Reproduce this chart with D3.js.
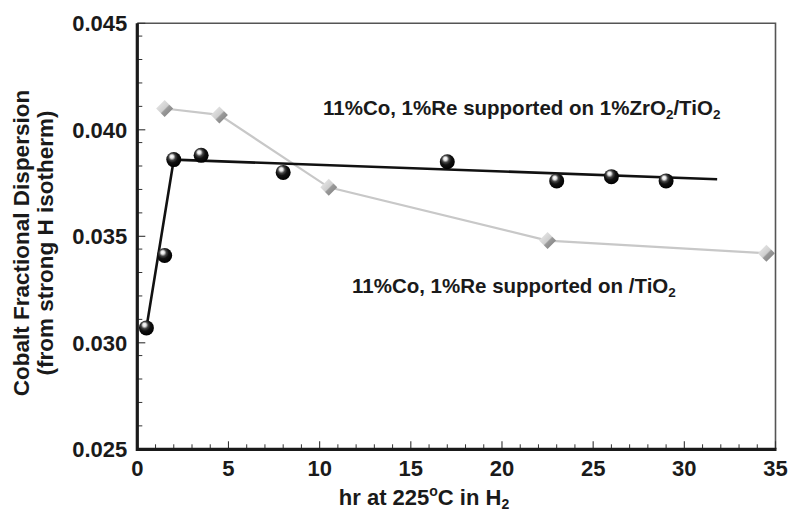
<!DOCTYPE html>
<html><head><meta charset="utf-8">
<script src="https://cdn.jsdelivr.net/npm/d3@7"></script>
<style>
html,body{margin:0;padding:0;background:#fff;}
svg{display:block;font-family:"Liberation Sans",Arial,sans-serif;font-weight:bold;}
</style></head>
<body><svg id="c" width="791" height="514"></svg>
<script>
// ---- data ----
const zrHours = [0.5, 1.5, 2, 3.5, 8, 17, 23, 26, 29];
const zrDisp  = [0.0307, 0.0341, 0.0386, 0.0388, 0.0380, 0.0385, 0.0376, 0.0378, 0.0376];
const zrLineHours = [0.5, 2, 31.8];
const zrLineDisp  = [0.0307, 0.0386, 0.03768];
const tiHours = [1.5, 4.5, 10.5, 22.5, 34.5];
const tiDisp  = [0.0410, 0.0407, 0.0373, 0.0348, 0.0342];
const xTicks = [0, 5, 10, 15, 20, 25, 30, 35];
const xMinor = [1,2,3,4,6,7,8,9,11,12,13,14,16,17,18,19,21,22,23,24,26,27,28,29,31,32,33,34];
const yTicks = [0.025, 0.030, 0.035, 0.040, 0.045];
const yMinor = [0.0444,0.0433,0.0422,0.0411, 0.0394,0.0383,0.0372,0.0361,
                0.0344,0.0333,0.0322,0.0311, 0.0294,0.0283,0.0272,0.0261];

const svg = d3.select("#c");
const L = 137.3, R = 775.5, T = 23.3, B = 449.3;
const x = d3.scaleLinear().domain([0, 35]).range([L, R]);
const y = d3.scaleLinear().domain([0.025, 0.045]).range([B, T]);

const defs = svg.append("defs");
const rg = defs.append("radialGradient").attr("id","sph")
  .attr("cx","0.42").attr("cy","0.38").attr("r","0.62").attr("fx","0.36").attr("fy","0.28");
[[0,"#ffffff"],[0.18,"#e6e6e6"],[0.38,"#444"],[0.6,"#111"],[1,"#000"]].forEach(s=>
  rg.append("stop").attr("offset",s[0]).attr("stop-color",s[1]));
const lg = defs.append("linearGradient").attr("id","dia")
  .attr("x1","0").attr("y1","0").attr("x2","1").attr("y2","1");
[[0,"#eeeeee"],[0.5,"#cfcfcf"],[0.56,"#9a9a9a"],[1,"#7a7a7a"]].forEach(s=>
  lg.append("stop").attr("offset",s[0]).attr("stop-color",s[1]));

// frame top/right
svg.append("path").attr("d",`M${L},${T}H${R}V${B}`).attr("fill","none")
  .attr("stroke","#555").attr("stroke-width",1.6);

// ticks
const g = svg.append("g");
g.selectAll(".xmin").data(xMinor).join("line")
  .attr("x1",d=>x(d)).attr("x2",d=>x(d)).attr("y1",B).attr("y2",B-5)
  .attr("stroke","#333").attr("stroke-width",1);
g.selectAll(".xmaj").data(xTicks).join("line")
  .attr("x1",d=>x(d)).attr("x2",d=>x(d)).attr("y1",B).attr("y2",B-8)
  .attr("stroke","#333").attr("stroke-width",1.1);
g.selectAll(".ymin").data(yMinor).join("line")
  .attr("x1",L).attr("x2",L+5).attr("y1",d=>y(d)).attr("y2",d=>y(d))
  .attr("stroke","#333").attr("stroke-width",1);
g.selectAll(".ymaj").data(yTicks).join("line")
  .attr("x1",L).attr("x2",L+8).attr("y1",d=>y(d)).attr("y2",d=>y(d))
  .attr("stroke","#333").attr("stroke-width",1.1);

// axes lines left/bottom
svg.append("path").attr("d",`M${L},${T}V${B}H${R+1}`).attr("fill","none")
  .attr("stroke","#1a1a1a").attr("stroke-width",3.2);

// tick labels
svg.selectAll(".xl").data(xTicks).join("text")
  .attr("x",d=>x(d)).attr("y",B+27).attr("text-anchor","middle")
  .attr("font-size",22).attr("fill","#1a1a1a").text(d=>d);
svg.selectAll(".yl").data(yTicks).join("text")
  .attr("x",L-10).attr("y",d=>y(d)+8).attr("text-anchor","end")
  .attr("font-size",22).attr("fill","#1a1a1a").text(d=>d3.format(".3f")(d));

// axis titles
const xt = svg.append("text").attr("x",424).attr("y",505).attr("text-anchor","middle")
  .attr("font-size",22).attr("fill","#1a1a1a");
xt.append("tspan").text("hr at 225");
xt.append("tspan").attr("font-size",14).attr("dy",-9).text("o");
xt.append("tspan").attr("dy",9).text("C in H");
xt.append("tspan").attr("font-size",14).attr("dy",4).text("2");

const yt = svg.append("g").attr("transform","translate(29,243) rotate(-90)");
yt.append("text").attr("text-anchor","middle").attr("font-size",22.5).attr("fill","#1a1a1a")
  .text("Cobalt Fractional Dispersion");
yt.append("text").attr("y",24).attr("text-anchor","middle").attr("font-size",22.5).attr("fill","#1a1a1a")
  .text("(from strong H isotherm)");

// gray series
const line = d3.line().x(d=>x(d[0])).y(d=>y(d[1]));
svg.append("path").datum(tiHours.map((h,i)=>[h,tiDisp[i]]))
  .attr("d",line).attr("fill","none").attr("stroke","#c8c8c8").attr("stroke-width",2.2);
const ds = 8.5;
svg.selectAll(".dia").data(tiHours.map((h,i)=>[h,tiDisp[i]])).join("path")
  .attr("d",d=>{const cx=x(d[0]), cy=y(d[1]);
    return `M${cx},${cy-ds}L${cx+ds},${cy}L${cx},${cy+ds}L${cx-ds},${cy}Z`;})
  .attr("fill","url(#dia)");

// black series
svg.append("path").datum(zrLineHours.map((h,i)=>[h,zrLineDisp[i]]))
  .attr("d",line).attr("fill","none").attr("stroke","#111").attr("stroke-width",2.6);
svg.selectAll(".sph").data(zrHours.map((h,i)=>[h,zrDisp[i]])).join("circle")
  .attr("cx",d=>x(d[0])).attr("cy",d=>y(d[1])).attr("r",7.5).attr("fill","url(#sph)");

// annotations
const a1 = svg.append("text").attr("x",323).attr("y",115).attr("font-size",20.5).attr("fill","#1a1a1a");
a1.append("tspan").text("11%Co, 1%Re supported on 1%ZrO");
a1.append("tspan").attr("font-size",13.5).attr("dy",4).text("2");
a1.append("tspan").attr("dy",-4).text("/TiO");
a1.append("tspan").attr("font-size",13.5).attr("dy",4).text("2");

const a2 = svg.append("text").attr("x",352).attr("y",293).attr("font-size",20.5).attr("fill","#1a1a1a");
a2.append("tspan").text("11%Co, 1%Re supported on /TiO");
a2.append("tspan").attr("font-size",13.5).attr("dy",4).text("2");
</script></body></html>
